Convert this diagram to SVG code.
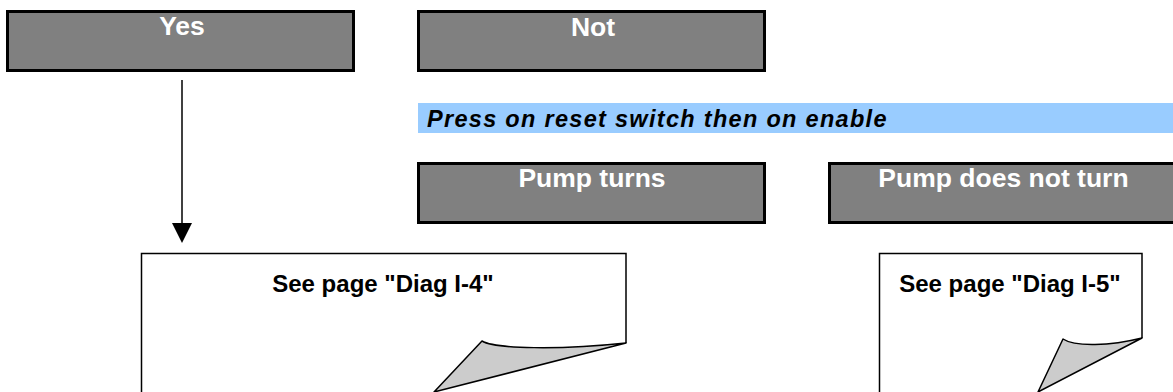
<svg xmlns="http://www.w3.org/2000/svg" width="1173" height="392" viewBox="0 0 1173 392">
  <style>
    .gbox { fill: #808080; stroke: #000; stroke-width: 3; }
    .gtext { font-family: "Liberation Sans", Arial, sans-serif; font-weight: bold; font-size: 26.5px; fill: #fff; text-anchor: middle; }
    .page { fill: #fff; stroke: #000; stroke-width: 1.5; }
    .curl { fill: #cccccc; stroke: #000; stroke-width: 1.5; stroke-linejoin: round; }
    .ptext { font-family: "Liberation Sans", Arial, sans-serif; font-weight: bold; font-size: 24px; fill: #000; text-anchor: middle; }
    .conn { stroke: #000; stroke-width: 1.5; fill: none; }
  </style>
  <rect width="1173" height="392" fill="#fff"/>

  <g id="yes">
    <rect class="gbox" x="7.5" y="11.5" width="346" height="59"/>
    <text class="gtext" x="182" y="35">Yes</text>
  </g>

  <g id="not">
    <rect class="gbox" x="418.5" y="11.5" width="346" height="59"/>
    <text class="gtext" x="593" y="36">Not</text>
  </g>

  <g id="instruction">
    <rect x="418" y="103" width="760" height="30" fill="#99ccff"/>
    <text x="427" y="127" font-family="Liberation Sans, Arial, sans-serif" font-weight="bold" font-style="italic" font-size="23.5" letter-spacing="1.3" fill="#000">Press on reset switch then on enable</text>
  </g>

  <g id="pump-turns">
    <rect class="gbox" x="418.5" y="163.5" width="346" height="59"/>
    <text class="gtext" x="592" y="187">Pump turns</text>
  </g>

  <g id="pump-not-turn">
    <rect class="gbox" x="829.5" y="163.5" width="360" height="59"/>
    <text class="gtext" x="1003.5" y="187">Pump does not turn</text>
  </g>

  <g id="page-i4">
    <path class="page" d="M141.5,400 V253.5 H626 V343"/>
    <path class="curl" d="M482,341 C495,349 560,350 626,343 L434,392 Z"/>
    <text class="ptext" x="383" y="292">See page "Diag I-4"</text>
  </g>

  <g id="page-i5">
    <path class="page" d="M879.5,400 V253.5 H1142 V338"/>
    <path class="curl" d="M1063,339 C1075,347 1110,346 1142,338 L1038,392 Z"/>
    <text class="ptext" x="1010" y="292">See page "Diag I-5"</text>
  </g>

  <g id="connectors">
    <line class="conn" x1="182" y1="80" x2="182" y2="226"/>
    <polygon points="172,223 192,223 182,243" fill="#000"/>
  </g>
</svg>
